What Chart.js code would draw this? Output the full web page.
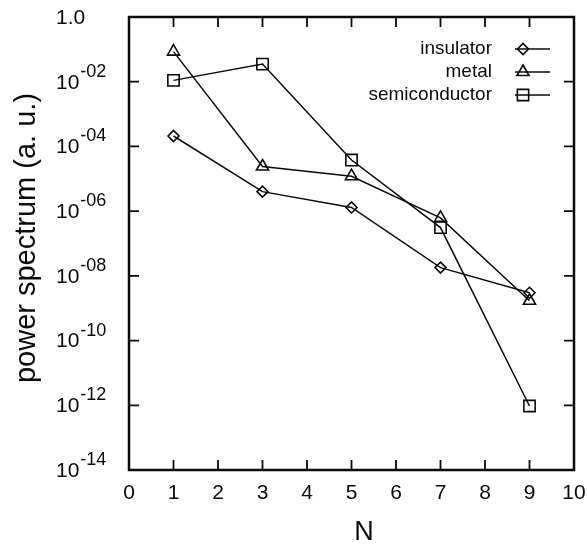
<!DOCTYPE html>
<html>
<head>
<meta charset="utf-8">
<title>power spectrum</title>
<script src="https://cdn.jsdelivr.net/npm/chart.js@4.4.0/dist/chart.umd.min.js"></script>
<style>
    body { margin: 0; background: #ffffff; }
    canvas { display: block; }
</style>
</head>
<body>
<canvas id="spectrumChart" width="587" height="546"></canvas>
<script>
// values
const harmonicN = [1, 3, 5, 7, 9];
const insulatorPower = [2.1e-4, 4.0e-6, 1.3e-6, 1.8e-8, 3.0e-9];
const metalPower = [8.5e-2, 2.4e-5, 1.2e-5, 6.2e-7, 1.7e-9];
const semiconductorPower = [1.1e-2, 3.5e-2, 3.8e-5, 3.1e-7, 9.5e-13];

const seriesNames = ['insulator', 'metal', 'semiconductor'];
const xTickValues = [0, 1, 2, 3, 4, 5, 6, 7, 8, 9, 10];
const yTickExponents = [0, -2, -4, -6, -8, -10, -12, -14];

const FONT = '"Liberation Sans", Arial, Helvetica, sans-serif';
const INK = '#0a0a0a';

function toPoints(values) {
    return harmonicN.map((n, i) => ({ x: n, y: values[i] }));
}

function makeDataset(label, values, pointStyle, radius) {
    return {
        label: label,
        data: toPoints(values),
        borderColor: INK,
        borderWidth: 1.5,
        backgroundColor: 'rgba(0,0,0,0)',
        pointStyle: pointStyle,
        pointRadius: radius,
        pointBorderWidth: 1.6,
        pointBorderColor: INK,
        pointBackgroundColor: 'rgba(0,0,0,0)',
        tension: 0,
        clip: false
    };
}

function drawMarker(ctx, style, radius, x, y) {
    ctx.save();
    ctx.strokeStyle = INK;
    ctx.fillStyle = 'rgba(0,0,0,0)';
    ctx.lineWidth = 1.6;
    if (Chart.helpers && Chart.helpers.drawPoint) {
        Chart.helpers.drawPoint(ctx, { pointStyle: style, radius: radius, rotation: 0, borderWidth: 1.6 }, x, y);
    }
    ctx.restore();
}

const framePlugin = {
    id: 'gnuplotFrame',
    afterDraw(chart) {
        const ctx = chart.ctx;
        const area = chart.chartArea;
        const xScale = chart.scales.x;
        const yScale = chart.scales.y;
        const tickLen = 10;

        ctx.save();
        ctx.strokeStyle = INK;
        ctx.fillStyle = INK;

        // inward ticks on all four sides
        ctx.lineWidth = 1.8;
        ctx.beginPath();
        xTickValues.slice(1, -1).forEach(v => {
            const px = xScale.getPixelForValue(v);
            ctx.moveTo(px, area.bottom);
            ctx.lineTo(px, area.bottom - tickLen);
            ctx.moveTo(px, area.top);
            ctx.lineTo(px, area.top + tickLen);
        });
        yTickExponents.slice(1, -1).forEach(e => {
            const py = yScale.getPixelForValue(Math.pow(10, e));
            ctx.moveTo(area.left, py);
            ctx.lineTo(area.left + tickLen, py);
            ctx.moveTo(area.right, py);
            ctx.lineTo(area.right - tickLen, py);
        });
        ctx.stroke();

        // frame
        ctx.lineWidth = 2.5;
        ctx.strokeRect(area.left, area.top, area.right - area.left, area.bottom - area.top);

        // x tick labels
        ctx.font = '21px ' + FONT;
        ctx.textAlign = 'center';
        ctx.textBaseline = 'middle';
        xTickValues.forEach(v => {
            ctx.fillText(String(v), xScale.getPixelForValue(v), 493);
        });

        // y tick labels with superscript exponents
        ctx.textAlign = 'left';
        yTickExponents.forEach(e => {
            const py = yScale.getPixelForValue(Math.pow(10, e));
            const x0 = 56;
            ctx.font = '21px ' + FONT;
            if (e === 0) {
                ctx.fillText('1.0', x0, py + 1);
                return;
            }
            ctx.fillText('10', x0, py + 1);
            const w = ctx.measureText('10').width;
            ctx.font = '18px ' + FONT;
            const exp = String(-e).padStart(2, '0');
            ctx.fillText('-' + exp, x0 + w + 1, py - 10);
        });

        // axis titles
        ctx.font = '27px ' + FONT;
        ctx.textAlign = 'center';
        ctx.fillText('N', 364, 533);

        ctx.save();
        ctx.translate(27, 238);
        ctx.rotate(-Math.PI / 2);
        ctx.font = '29px ' + FONT;
        ctx.fillText('power spectrum (a. u.)', 0, 0);
        ctx.restore();

        // key, top right inside the frame
        ctx.font = '19px ' + FONT;
        ctx.textAlign = 'right';
        chart.data.datasets.forEach((ds, i) => {
            const ky = 49 + i * 23;
            ctx.fillText(ds.label, 492, ky);
            ctx.lineWidth = 1.5;
            ctx.beginPath();
            ctx.moveTo(515, ky);
            ctx.lineTo(550, ky);
            ctx.stroke();
            drawMarker(ctx, ds.pointStyle, ds.pointRadius, 523, ky);
        });

        ctx.restore();
    }
};

document.addEventListener('DOMContentLoaded', function() {
    const canvas = document.getElementById('spectrumChart');

    new Chart(canvas, {
        type: 'line',
        data: {
            datasets: [
                makeDataset(seriesNames[0], insulatorPower, 'rectRot', 5.5),
                makeDataset(seriesNames[1], metalPower, 'triangle', 7),
                makeDataset(seriesNames[2], semiconductorPower, 'rect', 8)
            ]
        },
        options: {
            responsive: false,
            animation: false,
            devicePixelRatio: 1,
            layout: {
                padding: { left: 129, top: 17, right: 13, bottom: 76 }
            },
            plugins: {
                legend: { display: false },
                tooltip: { enabled: false }
            },
            scales: {
                x: {
                    type: 'linear',
                    min: 0,
                    max: 10,
                    display: false
                },
                y: {
                    type: 'logarithmic',
                    min: 1e-14,
                    max: 1,
                    display: false
                }
            }
        },
        plugins: [framePlugin]
    });
});
</script>
</body>
</html>
